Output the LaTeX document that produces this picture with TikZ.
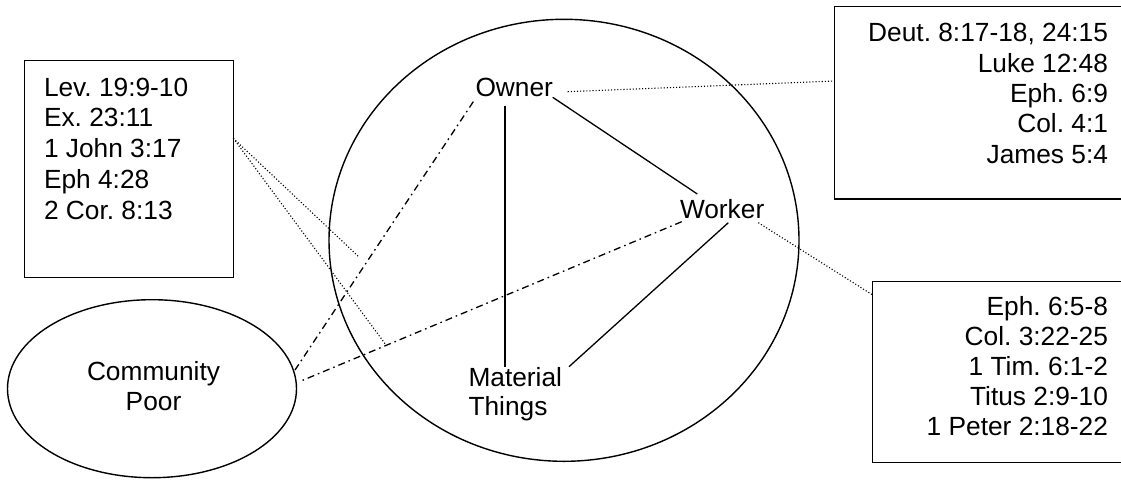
\documentclass[tikz,border=0pt]{standalone}
\usepackage{fontspec}
\setmainfont{Liberation Sans}
\usetikzlibrary{shapes.geometric}
\frenchspacing
\tikzset{
  refbox/.style={draw, line width=1.4pt, rectangle},
  txt/.style={inner sep=0pt, outer sep=0pt, font=\fontsize{26.3}{30.5}\selectfont},
  solidline/.style={line width=1.3pt},
  dotline/.style={line width=1.1pt, dash pattern=on 1.1pt off 2pt},
  dashdotline/.style={line width=1.3pt, dash pattern=on 7pt off 4pt on 1.6pt off 4pt},
}
\begin{document}
\frenchspacing
\begin{tikzpicture}[x=1pt,y=-1pt]
\useasboundingbox (0,0) rectangle (1121,479);
\clip (0,0) rectangle (1121,479);

% big circle and community ellipse
\node[draw, ellipse, line width=1.4pt, minimum width=470pt, minimum height=442pt, inner sep=0pt] (circ) at (564,240.3) {};
\node[draw, ellipse, line width=1.4pt, minimum width=289pt, minimum height=178pt, inner sep=0pt] (poorell) at (152,388.7) {};
\node[txt, anchor=base] (poor) at (153.5,380.7) {\fontsize{26.3}{29.3}\selectfont\begin{tabular}[t]{@{}c@{}}Community\\Poor\end{tabular}};

% reference boxes
\path[refbox] (24.3,60.7) rectangle (233.3,277.3);
\coordinate (lboxE) at (233.3,138.3);
\node[txt, anchor=base west] (ltext) at (44,96) {\fontsize{26.3}{30.75}\selectfont\begin{tabular}[t]{@{}l@{}}Lev. 19:9-10\\Ex. 23:11\\1 John 3:17\\Eph 4:28\\2 Cor. 8:13\end{tabular}};

\path[refbox] (834.3,6.7) rectangle (1125,199);
\coordinate (tboxW) at (834.3,81);
\node[txt, anchor=base east] (ttext) at (1108,41.7) {\fontsize{26.3}{30.4}\selectfont\begin{tabular}[t]{@{}r@{}}Deut. 8:17-18, 24:15\\Luke 12:48\\Eph. 6:9\\Col. 4:1\\James 5:4\end{tabular}};

\path[refbox] (872.7,281.7) rectangle (1125,462.7);
\coordinate (bboxW) at (872.7,295);
\node[txt, anchor=base east] (btext) at (1108,315) {\fontsize{26.3}{30}\selectfont\begin{tabular}[t]{@{}r@{}}Eph. 6:5-8\\Col. 3:22-25\\1 Tim. 6:1-2\\Titus 2:9-10\\1 Peter 2:18-22\end{tabular}};

% labels inside the circle
\node[txt, anchor=base west] (owner) at (475.5,96) {Owner};
\node[txt, anchor=base west] (worker) at (680,218.3) {Worker};
\node[txt, anchor=base west] (material) at (468.5,386.7) {\fontsize{26.3}{28.5}\selectfont\begin{tabular}[t]{@{}l@{}}Material\\Things\end{tabular}};

% connector end points
\coordinate (ownerS) at (505,105.7);
\coordinate (materialN) at (505,366.7);
\coordinate (ownerE) at (552.7,97.3);
\coordinate (workerNW) at (697.3,194);
\coordinate (workerS) at (728.3,222.7);
\coordinate (materialNE) at (569,366.7);
\coordinate (ownerR) at (567.7,91.7);
\coordinate (workerSE) at (758.3,222.7);
\coordinate (ownerSW) at (473.3,101.7);
\coordinate (workerSW) at (681.7,221.7);
\coordinate (poorA) at (295,370);
\coordinate (poorB) at (301.7,380.7);
\coordinate (onOwnerLine) at (359.3,257.3);
\coordinate (onWorkerLine) at (386,345);

% solid relations
\draw[solidline] (ownerS) -- (materialN);
\draw[solidline] (ownerE) -- (workerNW);
\draw[solidline] (workerS) -- (materialNE);

% dotted references
\draw[dotline] (ownerR) -- (tboxW);
\draw[dotline] (workerSE) -- (bboxW);
\draw[dotline] (lboxE) -- (onOwnerLine);
\draw[dotline] (lboxE) -- (onWorkerLine);

% dash-dot relations to the poor
\draw[dashdotline] (ownerSW) -- (poorA);
\draw[dashdotline] (workerSW) -- (poorB);
\end{tikzpicture}
\end{document}
